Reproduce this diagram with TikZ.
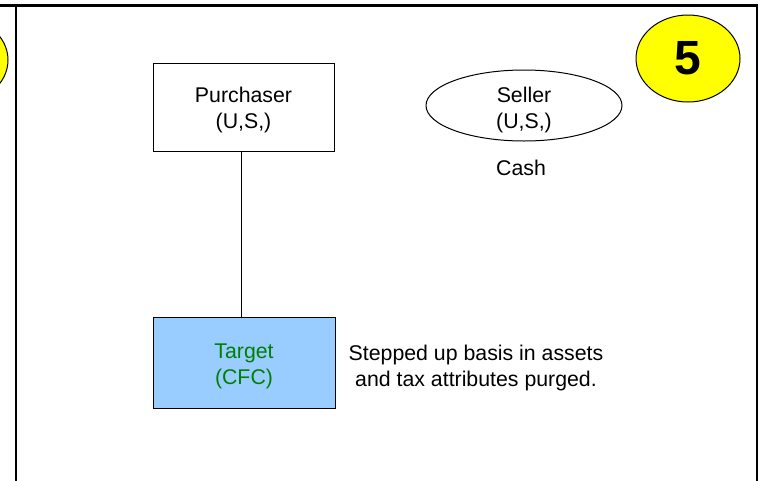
\documentclass[tikz,border=0pt]{standalone}
\usepackage{fontspec}
\setmainfont{Liberation Sans}
\usetikzlibrary{shapes.geometric}
\definecolor{boxblue}{HTML}{99CCFF}
\definecolor{labelgreen}{HTML}{008000}
\definecolor{badgeyellow}{HTML}{FFFF00}
\tikzset{
  txt/.style={font=\fontsize{21.3}{26}\selectfont, align=center, inner sep=0pt},
  entitybox/.style={txt, draw, line width=1pt, rectangle},
  entityoval/.style={txt, draw, line width=1pt, ellipse},
  badge/.style={draw, line width=1pt, ellipse, fill=badgeyellow, inner sep=0pt,
    minimum width=104pt, minimum height=87pt,
    font=\fontsize{48}{48}\bfseries\selectfont},
  frameline/.style={line width=2.2pt},
  link/.style={line width=1pt}
}
\begin{document}
\begin{tikzpicture}[x=1pt, y=-1pt]
  \useasboundingbox (0,0) rectangle (762,480);
  % slide frame
  \draw[frameline] (0,5.5) -- (757,5.5);
  \draw[frameline] (16,5.5) -- (16,482);
  \draw[frameline] (757,4.4) -- (757,482);
  % badges
  \node[badge] (prevbadge) at (-44,60) {};
  \node[badge] (badge) at (688,58.5) {5};
  % entities
  \node[entitybox, minimum width=181pt, minimum height=88pt] (purchaser) at (243.5,107) {};
  \node[txt] (purchaserlbl) at (243.5,110) {Purchaser\\(U,S,)};
  \node[entityoval, minimum width=196pt, minimum height=71pt] (seller) at (524,105.5) {};
  \node[txt] (sellerlbl) at (524,110) {Seller\\(U,S,)};
  \node[txt] (cash) at (521,168) {Cash};
  \node[entitybox, fill=boxblue, minimum width=182pt, minimum height=91pt] (target) at (244,362.5) {};
  \node[txt, text=labelgreen] (targetlbl) at (244,366) {Target\\(CFC)};
  \node[txt] (note) at (476,368) {Stepped up basis in assets\\and tax attributes purged.};
  % ownership link
  \draw[link] ([xshift=-2.5pt]purchaser.south) -- ([xshift=-3pt]target.north);
\end{tikzpicture}
\end{document}
